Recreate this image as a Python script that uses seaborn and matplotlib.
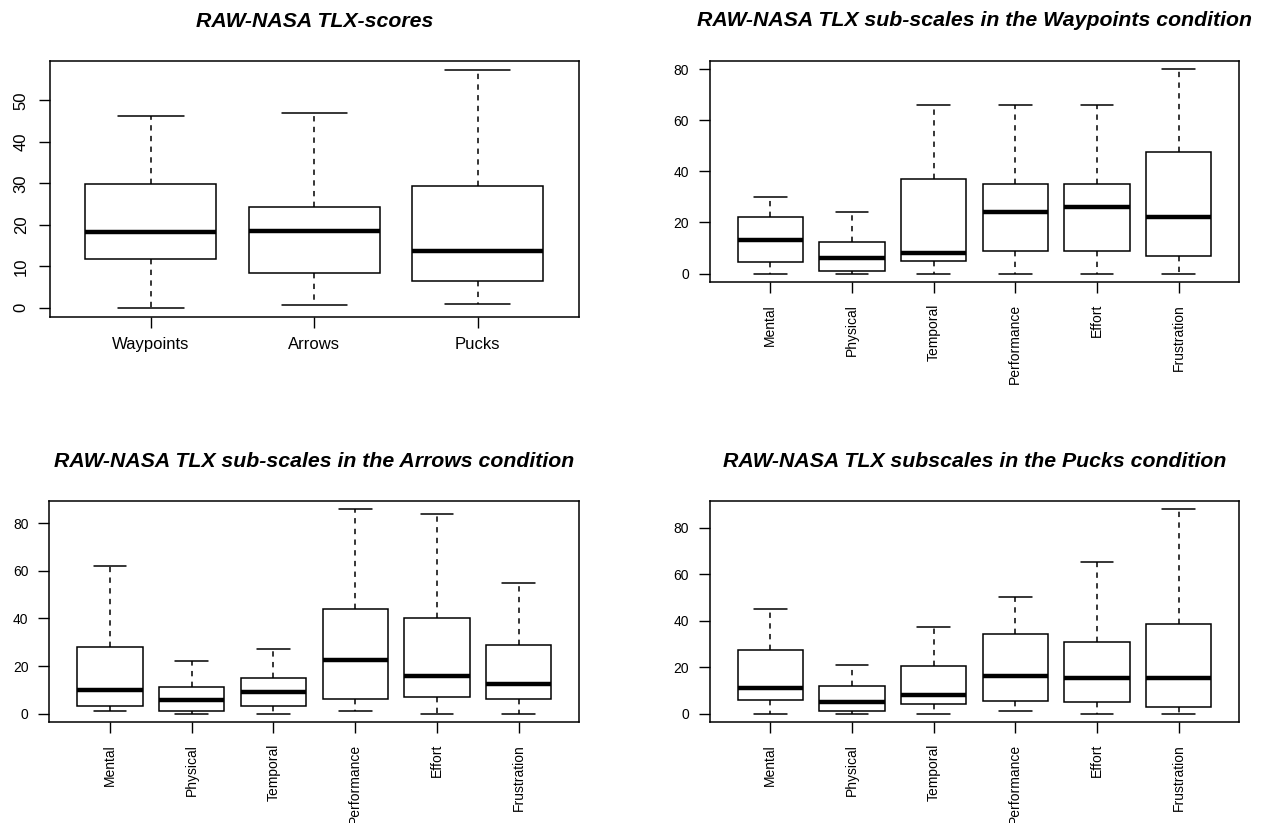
import numpy as np
import pandas as pd
import seaborn as sns
import matplotlib
matplotlib.use("Agg")
import matplotlib.pyplot as plt

# five-number summaries: min, q1, median, q3, max
tlx_conditions = ["Waypoints", "Arrows", "Pucks"]
tlx_scores = [
    [0.0, 11.7, 18.3, 29.9, 46.2],
    [0.6, 8.4, 18.5, 24.3, 46.9],
    [1.0, 6.4, 13.6, 29.4, 57.2],
]

subscales = ["Mental", "Physical", "Temporal", "Performance", "Effort", "Frustration"]
waypoints_sub = [
    [0, 4.4, 13.1, 22.0, 30.0],
    [0, 1.0, 6.0, 12.2, 24.0],
    [0, 5.0, 8.1, 37.0, 66.0],
    [0, 9.0, 24.1, 35.0, 66.0],
    [0, 9.0, 26.0, 35.0, 66.0],
    [0, 6.9, 22.1, 47.5, 80.0],
]
arrows_sub = [
    [1.0, 3.1, 10.1, 28.0, 62.0],
    [0, 0.9, 5.6, 11.0, 22.0],
    [0, 3.1, 9.1, 15.0, 27.0],
    [1.0, 6.0, 22.6, 44.0, 86.0],
    [0, 7.0, 16.0, 40.0, 84.0],
    [0, 6.0, 12.5, 29.0, 55.0],
]
pucks_sub = [
    [0, 6.0, 10.9, 27.5, 45.0],
    [0, 1.0, 5.0, 11.9, 21.0],
    [0, 4.0, 8.1, 20.4, 37.1],
    [1.0, 5.6, 16.0, 34.1, 50.0],
    [0, 5.0, 15.1, 30.9, 65.2],
    [0, 3.0, 15.1, 38.7, 88.0],
]

W, H = 1263, 823
sns.set_style("ticks")
plt.rcParams["font.family"] = ["Liberation Sans", "DejaVu Sans"]
plt.rcParams["text.color"] = "black"
plt.rcParams["xtick.color"] = "black"
plt.rcParams["ytick.color"] = "black"

fig = plt.figure(figsize=(W / 100, H / 100), dpi=100)


def to_long(cats, summaries):
    rows = [(c, v) for c, s in zip(cats, summaries) for v in s]
    return pd.DataFrame(rows, columns=["scale", "value"])


def draw_panel(box, title, title_y, cats, summaries, yticks, first=False):
    l, t, r, b = box
    ax = fig.add_axes([l / W, 1 - b / H, (r - l) / W, (b - t) / H])
    df = to_long(cats, summaries)
    sns.boxplot(data=df, x="scale", y="value", order=cats, ax=ax,
                color="white", linecolor="black", linewidth=1.1, width=0.8,
                whis=(0, 100), showfliers=False,
                medianprops=dict(linewidth=3.2),
                whiskerprops=dict(linestyle=(0, (3.5, 3.5))))
    n = len(cats)
    lo = min(min(s) for s in summaries)
    hi = max(max(s) for s in summaries)
    ax.set_ylim(lo - 0.04 * (hi - lo), hi + 0.04 * (hi - lo))
    ax.set_xlim(-0.5 - 0.04 * n, n - 0.5 + 0.04 * n)
    ax.set_yticks(yticks)
    ax.set_xlabel("")
    ax.set_ylabel("")
    for sp in ax.spines.values():
        sp.set_visible(True)
        sp.set_color("black")
        sp.set_linewidth(1.1)
    ax.tick_params(direction="out", length=8, width=1.0, color="black",
                   labelcolor="black")
    if first:
        ax.tick_params(axis="y", labelsize=12, labelrotation=90, pad=7)
        ax.tick_params(axis="x", labelsize=12, pad=6)
        for lbl in ax.get_yticklabels():
            lbl.set_va("center")
    else:
        ax.tick_params(axis="y", labelsize=10, pad=7)
        ax.tick_params(axis="x", labelsize=10, labelrotation=90, pad=8)
    fig.text((l + r) / 2 / W, 1 - title_y / H, title, ha="center",
             va="baseline", fontsize=15.3, fontweight="bold", style="italic")
    return ax


draw_panel((49.5, 61, 579, 317.3), "RAW-NASA TLX-scores", 26.7,
           tlx_conditions, tlx_scores, range(0, 51, 10), first=True)
draw_panel((709.9, 61, 1239, 281.7), "RAW-NASA TLX sub-scales in the Waypoints condition", 26,
           subscales, waypoints_sub, range(0, 81, 20))
draw_panel((49.4, 501, 579.3, 721.7), "RAW-NASA TLX sub-scales in the Arrows condition", 466.7,
           subscales, arrows_sub, range(0, 81, 20))
draw_panel((709.9, 501, 1239, 721.7), "RAW-NASA TLX subscales in the Pucks condition", 466.7,
           subscales, pucks_sub, range(0, 81, 20))

fig.savefig("out.png", dpi=100)
